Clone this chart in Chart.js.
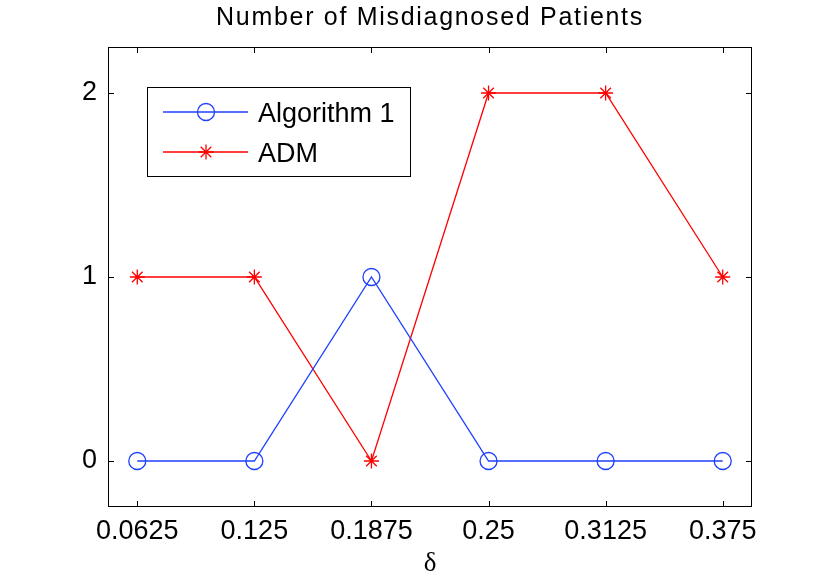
<!DOCTYPE html>
<html>
<head>
<meta charset="utf-8">
<title>Number of Misdiagnosed Patients</title>
<script src="https://cdn.jsdelivr.net/npm/chart.js@4.4.1/dist/chart.umd.min.js"></script>
<style>
  html, body { margin: 0; padding: 0; background: #fff; }
  #chart { display: block; }
</style>
</head>
<body>
<canvas id="chart" width="830" height="584"></canvas>
<script>
// values
const deltas = [0.0625, 0.125, 0.1875, 0.25, 0.3125, 0.375];
const algorithm1 = [0, 0, 1, 0, 0, 0];
const adm = [1, 1, 0, 2, 2, 1];
const xTicks = [0.0625, 0.125, 0.1875, 0.25, 0.3125, 0.375];
const xTickLabels = ['0.0625', '0.125', '0.1875', '0.25', '0.3125', '0.375'];
const yTicks = [0, 1, 2];
const seriesNames = ['Algorithm 1', 'ADM'];
const titleText = 'Number of Misdiagnosed Patients';
const xAxisLabel = 'δ';

const BLUE = 'rgb(32,64,255)';
const RED = 'rgb(255,0,0)';
const FONT = '"Liberation Sans", Arial, Helvetica, sans-serif';

function toPoints(xs, ys) {
  return xs.map((x, i) => ({ x, y: ys[i] }));
}

function drawMarker(ctx, style, x, y, r, color) {
  ctx.save();
  ctx.strokeStyle = color;
  ctx.lineWidth = 1.3;
  ctx.beginPath();
  if (style === 'circle') {
    ctx.arc(x, y, r, 0, Math.PI * 2);
  } else {
    const d = r * Math.SQRT1_2;
    ctx.moveTo(x - r, y); ctx.lineTo(x + r, y);
    ctx.moveTo(x, y - r); ctx.lineTo(x, y + r);
    ctx.moveTo(x - d, y - d); ctx.lineTo(x + d, y + d);
    ctx.moveTo(x - d, y + d); ctx.lineTo(x + d, y - d);
  }
  ctx.stroke();
  ctx.restore();
}

// matlab style box, inward ticks on all sides, legend and title
const matlabFrame = {
  id: 'matlabFrame',
  afterDraw(chart) {
    const { ctx, chartArea: a, scales } = chart;
    const tick = 6;
    ctx.save();
    ctx.strokeStyle = '#000';
    ctx.lineWidth = 1;
    ctx.strokeRect(a.left + 0.5, a.top + 0.5, a.right - a.left - 1, a.bottom - a.top - 1);
    ctx.beginPath();
    xTicks.forEach(v => {
      const px = Math.round(scales.x.getPixelForValue(v)) + 0.5;
      ctx.moveTo(px, a.bottom); ctx.lineTo(px, a.bottom - tick);
      ctx.moveTo(px, a.top); ctx.lineTo(px, a.top + tick);
    });
    yTicks.forEach(v => {
      const py = Math.round(scales.y.getPixelForValue(v)) + 0.5;
      ctx.moveTo(a.left, py); ctx.lineTo(a.left + tick, py);
      ctx.moveTo(a.right, py); ctx.lineTo(a.right - tick, py);
    });
    ctx.stroke();

    // legend
    const lx = 147, ly = 87, lw = 263, lh = 89;
    ctx.fillStyle = '#fff';
    ctx.fillRect(lx, ly, lw, lh);
    ctx.strokeRect(lx + 0.5, ly + 0.5, lw, lh);
    chart.data.datasets.forEach((ds, i) => {
      const cy = 112 + i * 40;
      ctx.strokeStyle = ds.borderColor;
      ctx.lineWidth = ds.borderWidth;
      ctx.beginPath();
      ctx.moveTo(163, cy); ctx.lineTo(248, cy);
      ctx.stroke();
      drawMarker(ctx, ds.pointStyle, 206, cy, ds.pointRadius, ds.borderColor);
      ctx.fillStyle = '#000';
      ctx.font = '27px ' + FONT;
      ctx.textAlign = 'left';
      ctx.textBaseline = 'alphabetic';
      ctx.fillText(ds.label, 258, cy + 10);
    });

    // title
    ctx.fillStyle = '#000';
    ctx.font = '25px ' + FONT;
    if ('letterSpacing' in ctx) ctx.letterSpacing = '1.7px';
    ctx.textAlign = 'center';
    ctx.textBaseline = 'alphabetic';
    ctx.fillText(titleText, (a.left + a.right) / 2, 25);
    ctx.restore();
  }
};

new Chart(document.getElementById('chart'), {
  type: 'line',
  data: {
    datasets: [
      {
        label: seriesNames[0],
        data: toPoints(deltas, algorithm1),
        borderColor: BLUE,
        borderWidth: 1.3,
        pointStyle: 'circle',
        pointRadius: 8.5,
        pointBorderWidth: 1.3,
        pointBackgroundColor: 'rgba(0,0,0,0)',
        pointBorderColor: BLUE,
        tension: 0
      },
      {
        label: seriesNames[1],
        data: toPoints(deltas, adm),
        borderColor: RED,
        borderWidth: 1.3,
        pointStyle: 'star',
        pointRadius: 7.5,
        pointBorderWidth: 1.3,
        pointBackgroundColor: RED,
        pointBorderColor: RED,
        tension: 0
      }
    ]
  },
  options: {
    responsive: false,
    animation: false,
    devicePixelRatio: 1,
    layout: { padding: { top: 47, right: 78, left: 0, bottom: 0 } },
    plugins: {
      legend: { display: false },
      title: { display: false },
      tooltip: { enabled: false }
    },
    scales: {
      x: {
        type: 'linear',
        min: 0.046875,
        max: 0.390625,
        afterBuildTicks: scale => { scale.ticks = xTicks.map(v => ({ value: v })); },
        afterFit: scale => { scale.height = 77; },
        grid: { display: false, drawTicks: false },
        border: { display: false },
        ticks: {
          padding: 8,
          color: '#000',
          font: { family: FONT, size: 27 },
          maxRotation: 0,
          autoSkip: false,
          callback: value => xTickLabels[xTicks.indexOf(value)]
        },
        title: {
          display: true,
          text: xAxisLabel,
          color: '#000',
          font: { family: '"Liberation Serif", "Times New Roman", serif', size: 27 },
          padding: { top: 0, bottom: 4 }
        }
      },
      y: {
        type: 'linear',
        min: -0.25,
        max: 2.25,
        afterBuildTicks: scale => { scale.ticks = yTicks.map(v => ({ value: v })); },
        afterFit: scale => { scale.width = 108; },
        grid: { display: false, drawTicks: false },
        border: { display: false },
        ticks: {
          padding: 11,
          color: '#000',
          font: { family: FONT, size: 27 }
        }
      }
    }
  },
  plugins: [matlabFrame]
});
</script>
</body>
</html>
